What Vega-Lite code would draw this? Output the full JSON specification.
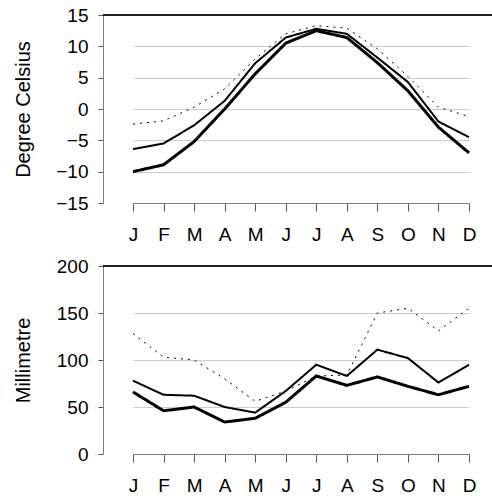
{
  "$schema": "https://vega.github.io/schema/vega-lite/v6.json",
  "padding": {"left": 13, "top": 6, "right": 0, "bottom": 0},
  "spacing": 13,
  "datasets": {
    "temperature": [
      {"month": "Jan", "station": "Station 1", "value": -10.0},
      {"month": "Feb", "station": "Station 1", "value": -8.9},
      {"month": "Mar", "station": "Station 1", "value": -5.2},
      {"month": "Apr", "station": "Station 1", "value": 0.0},
      {"month": "May", "station": "Station 1", "value": 5.6},
      {"month": "Jun", "station": "Station 1", "value": 10.5},
      {"month": "Jul", "station": "Station 1", "value": 12.5},
      {"month": "Aug", "station": "Station 1", "value": 11.4},
      {"month": "Sep", "station": "Station 1", "value": 7.4},
      {"month": "Oct", "station": "Station 1", "value": 2.9},
      {"month": "Nov", "station": "Station 1", "value": -2.9},
      {"month": "Dec", "station": "Station 1", "value": -7.0},
      {"month": "Jan", "station": "Station 2", "value": -6.4},
      {"month": "Feb", "station": "Station 2", "value": -5.5},
      {"month": "Mar", "station": "Station 2", "value": -2.6},
      {"month": "Apr", "station": "Station 2", "value": 1.3},
      {"month": "May", "station": "Station 2", "value": 7.3},
      {"month": "Jun", "station": "Station 2", "value": 11.4},
      {"month": "Jul", "station": "Station 2", "value": 12.8},
      {"month": "Aug", "station": "Station 2", "value": 12.0},
      {"month": "Sep", "station": "Station 2", "value": 8.2},
      {"month": "Oct", "station": "Station 2", "value": 4.3},
      {"month": "Nov", "station": "Station 2", "value": -2.0},
      {"month": "Dec", "station": "Station 2", "value": -4.5},
      {"month": "Jan", "station": "Station 3", "value": -2.4},
      {"month": "Feb", "station": "Station 3", "value": -1.9},
      {"month": "Mar", "station": "Station 3", "value": 0.3},
      {"month": "Apr", "station": "Station 3", "value": 3.2},
      {"month": "May", "station": "Station 3", "value": 8.0},
      {"month": "Jun", "station": "Station 3", "value": 12.0},
      {"month": "Jul", "station": "Station 3", "value": 13.3},
      {"month": "Aug", "station": "Station 3", "value": 12.9},
      {"month": "Sep", "station": "Station 3", "value": 9.6},
      {"month": "Oct", "station": "Station 3", "value": 5.2},
      {"month": "Nov", "station": "Station 3", "value": 0.3},
      {"month": "Dec", "station": "Station 3", "value": -1.2}
    ],
    "precipitation": [
      {"month": "Jan", "station": "Station 1", "value": 66},
      {"month": "Feb", "station": "Station 1", "value": 46},
      {"month": "Mar", "station": "Station 1", "value": 50},
      {"month": "Apr", "station": "Station 1", "value": 34},
      {"month": "May", "station": "Station 1", "value": 38},
      {"month": "Jun", "station": "Station 1", "value": 55},
      {"month": "Jul", "station": "Station 1", "value": 83},
      {"month": "Aug", "station": "Station 1", "value": 73},
      {"month": "Sep", "station": "Station 1", "value": 82},
      {"month": "Oct", "station": "Station 1", "value": 72},
      {"month": "Nov", "station": "Station 1", "value": 63},
      {"month": "Dec", "station": "Station 1", "value": 72},
      {"month": "Jan", "station": "Station 2", "value": 78},
      {"month": "Feb", "station": "Station 2", "value": 63},
      {"month": "Mar", "station": "Station 2", "value": 62},
      {"month": "Apr", "station": "Station 2", "value": 50},
      {"month": "May", "station": "Station 2", "value": 44},
      {"month": "Jun", "station": "Station 2", "value": 67},
      {"month": "Jul", "station": "Station 2", "value": 95},
      {"month": "Aug", "station": "Station 2", "value": 83},
      {"month": "Sep", "station": "Station 2", "value": 111},
      {"month": "Oct", "station": "Station 2", "value": 102},
      {"month": "Nov", "station": "Station 2", "value": 76},
      {"month": "Dec", "station": "Station 2", "value": 95},
      {"month": "Jan", "station": "Station 3", "value": 128},
      {"month": "Feb", "station": "Station 3", "value": 103},
      {"month": "Mar", "station": "Station 3", "value": 100},
      {"month": "Apr", "station": "Station 3", "value": 80},
      {"month": "May", "station": "Station 3", "value": 56},
      {"month": "Jun", "station": "Station 3", "value": 67},
      {"month": "Jul", "station": "Station 3", "value": 83},
      {"month": "Aug", "station": "Station 3", "value": 84},
      {"month": "Sep", "station": "Station 3", "value": 150},
      {"month": "Oct", "station": "Station 3", "value": 155},
      {"month": "Nov", "station": "Station 3", "value": 131},
      {"month": "Dec", "station": "Station 3", "value": 155}
    ]
  },
  "vconcat": [
    {
      "width": 389,
      "height": 188,
      "data": {"name": "temperature"},
      "encoding": {
        "x": {
          "field": "month",
          "type": "ordinal",
          "sort": ["Jan", "Feb", "Mar", "Apr", "May", "Jun", "Jul", "Aug", "Sep", "Oct", "Nov", "Dec"],
          "scale": {"type": "point", "range": [30, 366], "padding": 0},
          "axis": {"title": null, "labelExpr": "slice(datum.label, 0, 1)", "labelAngle": 0, "tickSize": 8, "labelPadding": 14, "grid": false, "domain": true, "ticks": true, "domainColor": "#7f7f7f", "tickColor": "#555555"}
        },
        "y": {
          "field": "value",
          "type": "quantitative",
          "scale": {"domain": [-15, 15], "nice": false, "zero": false},
          "axis": {
            "title": "Degree Celsius",
            "values": [-15, -10, -5, 0, 5, 10, 15],
            "tickSize": 5,
            "labelPadding": 10,
            "titlePadding": 22,
            "grid": true,
            "gridColor": "#cccccc",
            "domain": true,
            "domainColor": "#7f7f7f",
            "tickColor": "#555555"
          }
        }
      },
      "layer": [
        {
          "mark": {"type": "line", "color": "black", "strokeCap": "butt"},
          "encoding": {
            "detail": {"field": "station"},
            "strokeWidth": {"field": "station", "type": "nominal", "scale": {"domain": ["Station 1", "Station 2", "Station 3"], "range": [3, 1, 2]}, "legend": null},
            "strokeDash": {"field": "station", "type": "nominal", "scale": {"domain": ["Station 1", "Station 2", "Station 3"], "range": [[1, 0], [1, 0], [2, 5]]}, "legend": null}
          }
        },
        {
          "mark": {"type": "rule", "color": "#222222", "strokeWidth": 1},
          "encoding": {"y": {"datum": 15}, "x": null}
        }
      ]
    },
    {
      "width": 389,
      "height": 188,
      "data": {"name": "precipitation"},
      "encoding": {
        "x": {
          "field": "month",
          "type": "ordinal",
          "sort": ["Jan", "Feb", "Mar", "Apr", "May", "Jun", "Jul", "Aug", "Sep", "Oct", "Nov", "Dec"],
          "scale": {"type": "point", "range": [30, 366], "padding": 0},
          "axis": {"title": null, "labelExpr": "slice(datum.label, 0, 1)", "labelAngle": 0, "tickSize": 8, "labelPadding": 14, "grid": false, "domain": true, "ticks": true, "domainColor": "#7f7f7f", "tickColor": "#555555"}
        },
        "y": {
          "field": "value",
          "type": "quantitative",
          "scale": {"domain": [0, 200], "nice": false},
          "axis": {
            "title": "Millimetre",
            "values": [0, 50, 100, 150, 200],
            "tickSize": 5,
            "labelPadding": 10,
            "titlePadding": 23,
            "grid": true,
            "gridColor": "#cccccc",
            "domain": true,
            "domainColor": "#7f7f7f",
            "tickColor": "#555555"
          }
        }
      },
      "layer": [
        {
          "mark": {"type": "line", "color": "black", "strokeCap": "butt"},
          "encoding": {
            "detail": {"field": "station"},
            "strokeWidth": {"field": "station", "type": "nominal", "scale": {"domain": ["Station 1", "Station 2", "Station 3"], "range": [3, 1, 2]}, "legend": null},
            "strokeDash": {"field": "station", "type": "nominal", "scale": {"domain": ["Station 1", "Station 2", "Station 3"], "range": [[1, 0], [1, 0], [2, 5]]}, "legend": null}
          }
        },
        {
          "mark": {"type": "rule", "color": "#222222", "strokeWidth": 1},
          "encoding": {"y": {"datum": 200}, "x": null}
        }
      ]
    }
  ],
  "resolve": {"scale": {"strokeWidth": "independent", "strokeDash": "independent"}},
  "config": {
    "view": {"stroke": null},
    "axis": {
      "labelFont": "Liberation Sans",
      "titleFont": "Liberation Sans",
      "labelFontSize": 19,
      "titleFontSize": 20,
      "titleFontWeight": "normal",
      "labelColor": "black",
      "titleColor": "black"
    }
  }
}
